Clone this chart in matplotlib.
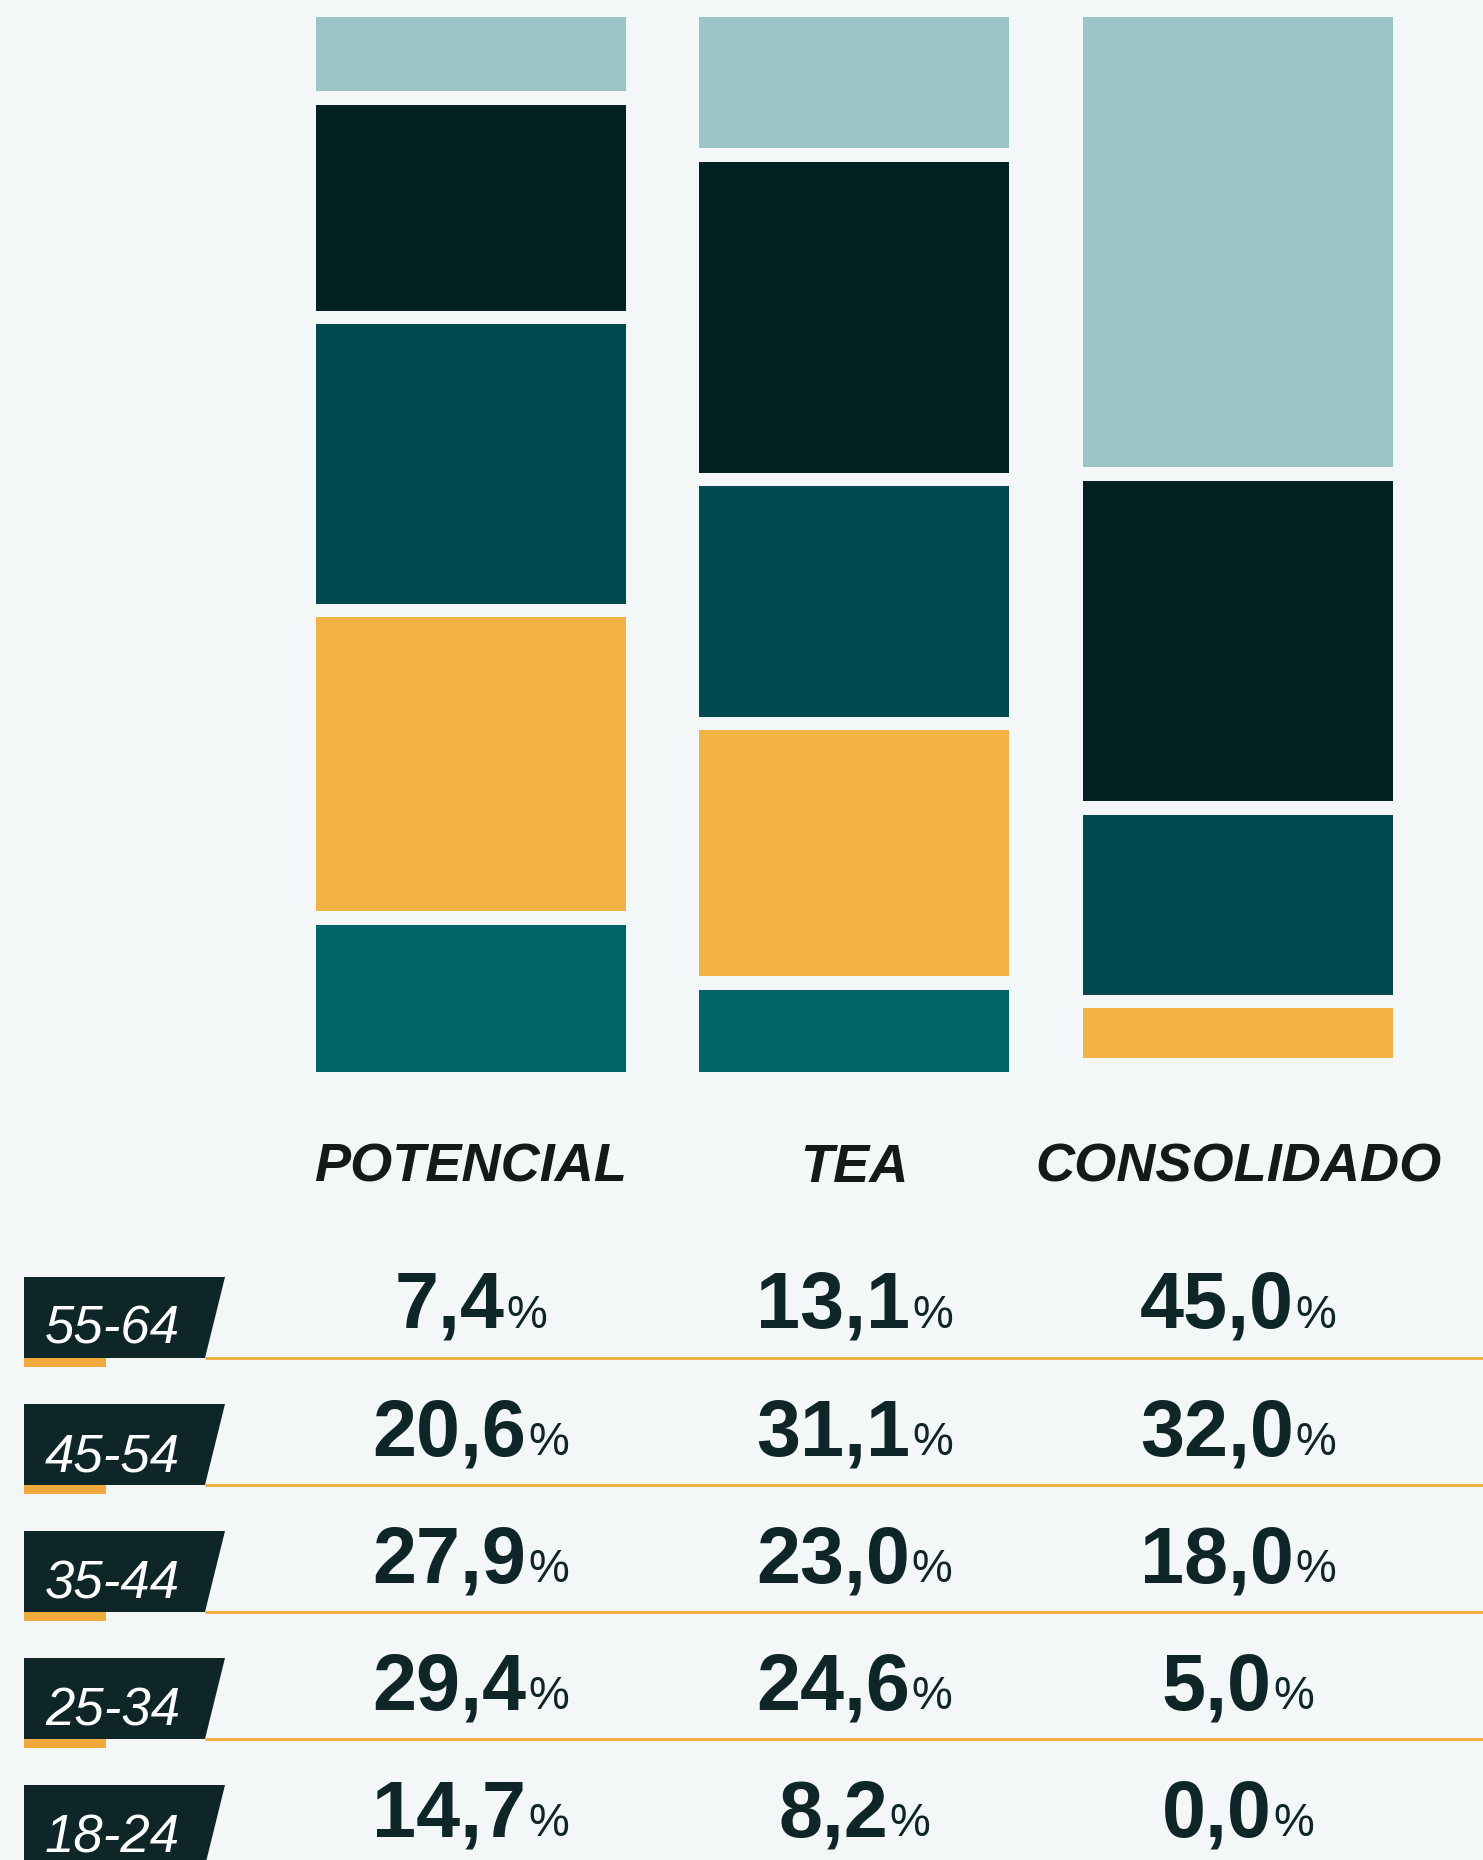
import numpy as np
import matplotlib.pyplot as plt
from matplotlib.patches import Polygon, Rectangle
from matplotlib.transforms import ScaledTranslation

# ===============================
# DATA
# ===============================
groups = ['POTENCIAL', 'TEA', 'CONSOLIDADO']
ages = ['55-64', '45-54', '35-44', '25-34', '18-24']      # top to bottom
potencial = [7.4, 20.6, 27.9, 29.4, 14.7]
tea = [13.1, 31.1, 23.0, 24.6, 8.2]
consolidado = [45.0, 32.0, 18.0, 5.0, 0.0]
age_colors = ['#9cc3c5', '#022122', '#024a4f', '#f2b245', '#03646a']

series = [potencial, tea, consolidado]

# ===============================
# FIGURE
# ===============================
W, H, DPI = 1483, 1860, 100
bg = '#f4f7f7'
dark = '#0e2627'
orange = '#f1a93c'

font = ['Liberation Sans Narrow', 'Liberation Sans', 'DejaVu Sans']

fig = plt.figure(figsize=(W / DPI, H / DPI), dpi=DPI, facecolor=bg)

# bar axes (pixel layout of the reference)
step = 383.75
c0 = 470.5
ax_left = c0 - 0.5 * step
bar_top, bar_bot = 17, 1072
ax = fig.add_axes([ax_left / W, 1 - bar_bot / H, 3 * step / W, (bar_bot - bar_top) / H])
ax.set_facecolor('none')

gap = 1.35
x = np.arange(len(groups))
bottom = np.zeros(len(groups))
for i in range(len(ages) - 1, -1, -1):
    vals = np.array([s[i] for s in series])
    ax.bar(x, vals, width=310 / step, bottom=bottom, color=age_colors[i], linewidth=0)
    bottom = bottom + vals + gap
ax.set_xlim(-0.5, 2.5)
ax.set_ylim(0, 100 + (len(ages) - 1) * gap)
ax.axis('off')

# ===============================
# TABLE AXES
# ===============================
row_h = 127
tab_top = 1231
n_rows_vis = (H - tab_top) / row_h
tab = fig.add_axes([0, 0, 1, (H - tab_top) / H])
tab.set_facecolor('none')
xl = -0.5 - ax_left / step
xr = -0.5 + (W - ax_left) / step
tab.set_xlim(xl, xr)
tab.set_ylim(n_rows_vis, 0)
tab.axis('off')


def px2x(px):
    return xl + px / W * (xr - xl)


# column headers
for j, g in enumerate(groups):
    tab.text(j, (1182 - tab_top) / row_h, g, ha='center', va='baseline',
             fontsize=39, fontweight='bold', fontstyle='italic',
             family=font, color='#151919')

# row labels, lines
for k, a in enumerate(ages):
    y_top = k + (1277 - tab_top) / row_h
    y_bot = k + 1
    box = Polygon([(px2x(24), y_top), (px2x(225), y_top),
                   (px2x(205), y_bot), (px2x(24), y_bot)],
                  closed=True, facecolor=dark, edgecolor='none', clip_on=False)
    tab.add_patch(box)
    tab.plot([px2x(205), px2x(W)], [y_bot, y_bot], color=orange, lw=2.0,
             solid_capstyle='butt', clip_on=False)
    tab.add_patch(Rectangle((px2x(24), y_bot), px2x(106) - px2x(24), 9 / row_h,
                            facecolor=orange, edgecolor='none', clip_on=False))
    tab.text(px2x(45), k + (1344 - tab_top) / row_h, a, ha='left', va='baseline',
             fontsize=38, fontstyle='italic', family=font, color='white')

# value texts: bold number + small percent sign, centred on each bar
fig.canvas.draw()
r = fig.canvas.get_renderer()
for j, s in enumerate(series):
    for k, v in enumerate(s):
        num = f'{v:.1f}'.replace('.', ',')
        yb = k + (1328 - tab_top) / row_h
        t1 = tab.text(j, yb, num, ha='left', va='baseline', fontsize=57,
                      fontweight='bold', family=font, color=dark)
        t2 = tab.text(j, yb, '%', ha='left', va='baseline', fontsize=33,
                      family=font, color=dark)
        w1 = t1.get_window_extent(r).width
        w2 = t2.get_window_extent(r).width
        total = w1 + w2 + 2
        t1.set_transform(tab.transData + ScaledTranslation(-total / 2 / DPI, 0, fig.dpi_scale_trans))
        t2.set_transform(tab.transData + ScaledTranslation((-total / 2 + w1 + 2) / DPI, 0, fig.dpi_scale_trans))

fig.savefig('out.png', dpi=DPI, facecolor=bg)
